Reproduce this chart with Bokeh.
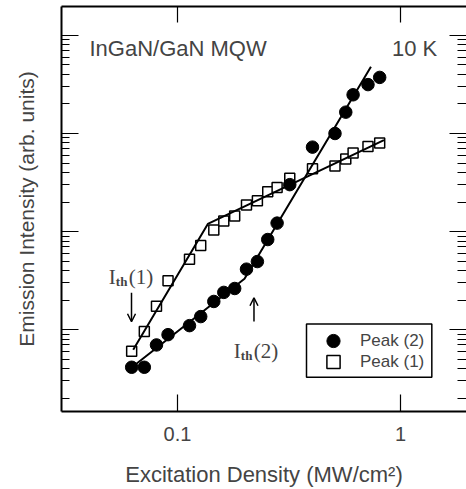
from bokeh.plotting import figure
from bokeh.models import (Range1d, LogAxis, FixedTicker, CustomJSTickFormatter, Label,
                          Arrow, OpenHead, Legend, LegendItem, ColumnDataSource, BoxAnnotation)
from bokeh.embed import file_html
from bokeh.resources import INLINE

# ---- data ----
excitation = [0.0623, 0.0710, 0.0805, 0.0907, 0.1132, 0.1271, 0.1455, 0.1613, 0.1805, 0.2039,
              0.2282, 0.2539, 0.2797, 0.3188, 0.4031, 0.5085, 0.5684, 0.6130, 0.7149, 0.8067]
peak2 = [4.14, 4.14, 6.99, 8.90, 11.0, 13.6, 19.4, 24.0, 26.3, 41.4,
         49.5, 83.0, 122, 301, 726, 1000, 1650, 2480, 3150, 3730]
peak1 = [6.02, 9.61, 17.3, 31.5, 52.4, 72.3, 104, 128, 144, 187,
         206, 255, 282, 349, 436, 465, 548, 631, 738, 802]

fit1_x = [0.0633, 0.1368, 0.843]
fit1_y = [6.26, 119.6, 855]
fit2_x = [0.0648, 0.1998, 0.737]
fit2_y = [4.41, 33.0, 4800]

x_ticks = [0.1, 1]
y_major = [10, 100, 1000, 10000]
y_minor = [m * 10 ** e for e in range(0, 5) for m in range(2, 10)]

FONT = "Liberation Sans"
SERIF = "Liberation Serif"

p = figure(width=466, height=489, x_axis_type="log", y_axis_type="log",
           x_range=Range1d(0.03019, 1.977), y_range=Range1d(1.466, 19700),
           output_backend="svg", toolbar_location=None,
           min_border_left=61, min_border_right=0, min_border_top=6, min_border_bottom=77)
p.outline_line_color = None
p.xgrid.visible = False
p.ygrid.visible = False
p.background_fill_color = "white"
p.border_fill_color = "white"

# bottom axis
xa = p.xaxis[0]
xa.ticker = FixedTicker(ticks=x_ticks, minor_ticks=[])
xa.formatter = CustomJSTickFormatter(code="return tick.toString();")
xa.major_tick_in = 17
xa.major_tick_out = 0
xa.minor_tick_in = 0
xa.minor_tick_out = 0
xa.axis_line_width = 2
xa.major_tick_line_width = 1.2
xa.major_label_text_font = FONT
xa.major_label_text_font_size = "20px"
xa.major_label_standoff = 15
xa.axis_label = "Excitation Density (MW/cm²)"
xa.axis_label_text_font = FONT
xa.axis_label_text_font_size = "22px"
xa.axis_label_text_font_style = "normal"
xa.axis_label_standoff = 18

# left axis
ya = p.yaxis[0]
ya.ticker = FixedTicker(ticks=y_major, minor_ticks=y_minor)
ya.formatter = CustomJSTickFormatter(code="return '';")
ya.major_label_text_font_size = "0px"
ya.major_label_standoff = 0
ya.major_tick_in = 17
ya.major_tick_out = 0
ya.minor_tick_in = 8
ya.minor_tick_out = 0
ya.axis_line_width = 2
ya.major_tick_line_width = 1.2
ya.minor_tick_line_width = 1.2
ya.axis_label = "Emission Intensity (arb. units)"
ya.axis_label_text_font = FONT
ya.axis_label_text_font_size = "21px"
ya.axis_label_text_font_style = "normal"
ya.axis_label_standoff = 24

# top axis
ta = LogAxis(ticker=FixedTicker(ticks=x_ticks, minor_ticks=[]),
             formatter=CustomJSTickFormatter(code="return '';"),
             major_label_text_font_size="0px", major_label_standoff=0,
             major_tick_in=16, major_tick_out=0, minor_tick_in=0, minor_tick_out=0,
             axis_line_width=2, major_tick_line_width=1.2)
p.add_layout(ta, "above")

# right axis
ra = LogAxis(ticker=FixedTicker(ticks=y_major, minor_ticks=y_minor),
             formatter=CustomJSTickFormatter(code="return '';"),
             major_label_text_font_size="0px", major_label_standoff=0,
             major_tick_in=17, major_tick_out=0, minor_tick_in=9, minor_tick_out=0,
             axis_line_color=None, major_tick_line_width=1.2, minor_tick_line_width=1.2)
p.add_layout(ra, "right")

src = ColumnDataSource(dict(x=excitation, p1=peak1, p2=peak2))
r1 = p.scatter("x", "p1", source=src, marker="square", size=10,
               fill_color="white", line_color="black", line_width=1.5)
r2 = p.scatter("x", "p2", source=src, marker="circle", size=12.5,
               fill_color="black", line_color="black")
p.line(fit1_x, fit1_y, line_width=2, line_color="black")
p.line(fit2_x, fit2_y, line_width=2, line_color="black")

# legend: framed box + two single-row legends
p.add_layout(BoxAnnotation(left=0.3789, right=1.382, bottom=3.273, top=11.43,
                           fill_color="white", fill_alpha=1, line_color="black",
                           line_width=1.5, line_alpha=1))
for item, loc in [(LegendItem(label="Peak (2)", renderers=[r2]), (245, 54)),
                  (LegendItem(label="Peak (1)", renderers=[r1]), (245, 33))]:
    p.add_layout(Legend(items=[item], location=loc, glyph_width=54, glyph_height=33,
                        padding=0, spacing=0, label_standoff=0, label_width=60, margin=0,
                        label_text_font=FONT, label_text_font_size="17px",
                        border_line_color=None, background_fill_alpha=0))

# texts
p.add_layout(Label(x=0.0403, y=7316, text="InGaN/GaN MQW", text_font=FONT,
                   text_font_size="22px", text_baseline="alphabetic", text_align="left"))
p.add_layout(Label(x=1.461, y=7316, text="10 K", text_font=FONT,
                   text_font_size="22px", text_baseline="alphabetic", text_align="right"))

for (ax, ay, num) in [(0.0492, 34.8, "(1)"), (0.1789, 6.116, "(2)")]:
    p.add_layout(Label(x=ax, y=ay, text="I", text_font=SERIF, text_font_size="21px",
                       text_baseline="alphabetic"))
    p.add_layout(Label(x=ax, y=ay, text="th", text_font=SERIF, text_font_size="13px",
                       text_font_style="bold", text_baseline="alphabetic",
                       x_offset=7, y_offset=-5))
    p.add_layout(Label(x=ax, y=ay, text=num, text_font=SERIF, text_font_size="21px",
                       text_baseline="alphabetic", x_offset=20))

p.add_layout(Arrow(end=OpenHead(size=8, line_width=1.5), x_start=0.0622, y_start=23.8,
                   x_end=0.0622, y_end=12.06, line_width=1.5))
p.add_layout(Arrow(end=OpenHead(size=8, line_width=1.5), x_start=0.2203, y_start=12.15,
                   x_end=0.2203, y_end=21.15, line_width=1.5))

open("out.html", "w").write(file_html(p, INLINE))
